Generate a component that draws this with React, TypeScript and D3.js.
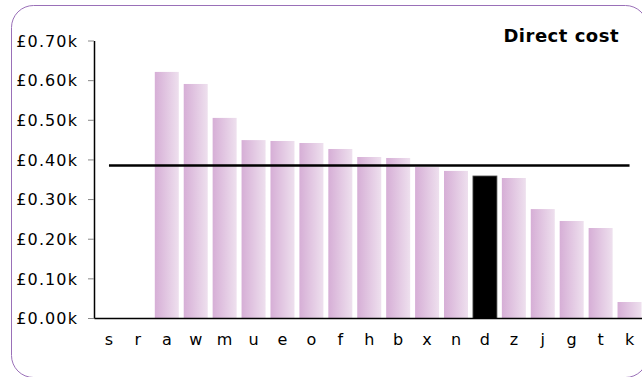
import React from "react";
import * as d3 from "d3";

const categories = ["s","r","a","w","m","u","e","o","f","h","b","x","n","d","z","j","g","t","k"];
const values: (number | null)[] = [null,null,0.622,0.5916,0.506,0.450,0.4478,0.4427,0.4276,0.4074,0.4049,0.382,0.3723,0.3595,0.3544,0.276,0.246,0.2283,0.0416];
const highlight = "d";
const averageValue = 0.386;
const yTicks = [0, 0.1, 0.2, 0.3, 0.4, 0.5, 0.6, 0.7];
const title = "Direct cost";

const W = 642, H = 377;
const FONT = "'DejaVu Sans', Verdana, sans-serif";

export default function App() {
  const x = d3.scaleBand<string>().domain(categories).range([94.5, 644]).paddingInner(0.17).paddingOuter(0.085);
  const y = d3.scaleLinear().domain([0, 0.7]).range([318.5, 41]);
  const fmt = (v: number) => "£" + v.toFixed(2) + "k";
  const lineGen = d3.line<string>().x(c => (x(c) as number) + x.bandwidth() / 2).y(() => y(averageValue));
  return (
    <svg width={W} height={H} style={{ position: "absolute", left: 0, top: 0 }} fontFamily={FONT}>
      <defs>
        <linearGradient id="barGrad" x1="0" x2="1" y1="0" y2="0">
          <stop offset="0%" stopColor="#d6aed6" />
          <stop offset="100%" stopColor="#eee0ee" />
        </linearGradient>
      </defs>
      <rect x={11.5} y={5.5} width={636} height={372} rx={22} ry={22} fill="#fff" stroke="#9a70b8" strokeWidth={1} />
      {categories.map((c, i) => {
        const v = values[i];
        if (v == null) return null;
        const isH = c === highlight;
        return (
          <rect key={c} x={x(c)} y={y(v)} width={x.bandwidth()} height={y(0) - y(v)}
            fill={isH ? "#000" : "url(#barGrad)"} stroke={isH ? "#555" : "none"} strokeWidth={isH ? 0.8 : 0} />
        );
      })}
      <path d={lineGen(categories) || ""} fill="none" stroke="#000" strokeWidth={2.5} />
      <line x1={94.5} x2={W} y1={y(0)} y2={y(0)} stroke="#000" strokeWidth={1.5} />
      <line x1={94.5} x2={94.5} y1={y(0.7)} y2={y(0)} stroke="#000" strokeWidth={1.5} />
      {yTicks.map(t => (
        <g key={t}>
          <line x1={88} x2={94} y1={y(t)} y2={y(t)} stroke="#888" strokeWidth={1} />
          <text x={78} y={y(t)} dy="0.36em" textAnchor="end" fontSize={16} letterSpacing={1.1} fill="#000">{fmt(t)}</text>
        </g>
      ))}
      {categories.map(c => (
        <text key={c} x={(x(c) as number) + x.bandwidth() / 2} y={345} textAnchor="middle" fontSize={16} fill="#000">{c}</text>
      ))}
      <text x={619} y={42} textAnchor="end" fontSize={18} fontWeight="bold" letterSpacing={0.5} fill="#000">{title}</text>
    </svg>
  );
}
